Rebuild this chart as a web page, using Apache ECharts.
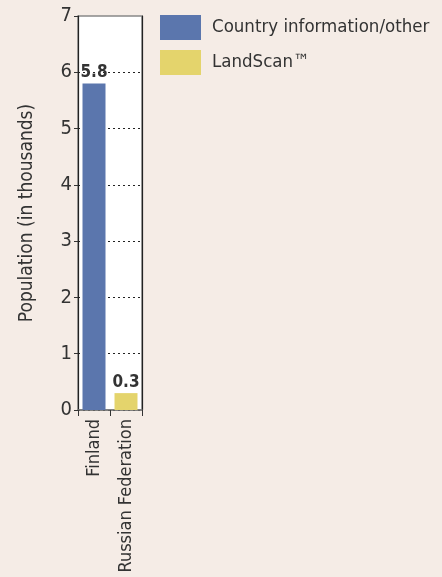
<!DOCTYPE html>
<html><head><meta charset="utf-8">
<script src="https://cdn.jsdelivr.net/npm/echarts@6/dist/echarts.min.js"></script>
<style>html,body{margin:0;padding:0;background:#f5ece6;}#c{width:442px;height:577px;}</style>
</head><body><div id="c"></div>
<script>
var categories = ['Finland', 'Russian Federation'];
var countryInfo = [5.8, null];
var landScan = [null, 0.3];
var yTicks = [0, 1, 2, 3, 4, 5, 6, 7];
var seriesNames = ['Country information/other', 'LandScan\u2122'];

var FONT = '"DejaVu Sans Condensed", "Liberation Sans Narrow", sans-serif';
var chart = echarts.init(document.getElementById('c'));
chart.setOption({
  backgroundColor: '#f5ece6',
  animation: false,
  textStyle: { fontFamily: FONT },
  grid: { left: 78, right: 300, top: 16, bottom: 167, show: true, backgroundColor: '#ffffff', borderColor: '#888', borderWidth: 1.5 },
  legend: {
    orient: 'vertical', left: 155, top: 10, itemWidth: 41, itemHeight: 25, itemGap: 10,
    icon: 'rect',
    textStyle: { fontFamily: FONT, fontSize: 18.5, color: '#333', padding: [3, 0, 0, 6] },
    data: seriesNames
  },
  xAxis: {
    type: 'category', data: categories,
    axisLine: { lineStyle: { color: '#777', width: 1.5 } },
    axisTick: { show: true, length: 6, lineStyle: { color: '#333' } },
    axisLabel: { rotate: 90, fontSize: 18, color: '#333', fontFamily: FONT, margin: 9 }
  },
  yAxis: [{
    type: 'value', min: 0, max: 7, interval: 1,
    name: 'Population (in thousands)', nameLocation: 'middle', nameGap: 41, nameRotate: 90,
    nameTextStyle: { fontSize: 19, color: '#333', fontFamily: FONT },
    axisLine: { show: true, lineStyle: { color: '#222', width: 1.2 } },
    axisTick: { show: true, length: 4, lineStyle: { color: '#333' } },
    axisLabel: { fontSize: 20, color: '#333', fontFamily: FONT, margin: 6,
      formatter: function (v) { return yTicks.indexOf(v) >= 0 ? String(v) : ''; } },
    splitLine: { show: true, showMaxLine: false, lineStyle: { type: [2, 3], color: '#222', width: 1 } }
  }, {
    type: 'value', min: 0, max: 7, interval: 1, position: 'right',
    axisLine: { show: true, lineStyle: { color: '#222', width: 1.2 } },
    axisTick: { show: false }, axisLabel: { show: false }, splitLine: { show: false }
  }],
  series: [{
    name: seriesNames[0], type: 'bar', stack: 'a', data: countryInfo, barWidth: 23,
    itemStyle: { color: '#5b76ad' },
    label: { show: true, position: 'top', fontSize: 17, fontWeight: 'bold', color: '#333', fontFamily: FONT, distance: 2 }
  }, {
    name: seriesNames[1], type: 'bar', stack: 'a', data: landScan, barWidth: 23,
    itemStyle: { color: '#e4d46c' },
    label: { show: true, position: 'top', fontSize: 17, fontWeight: 'bold', color: '#333', fontFamily: FONT, distance: 2 }
  }]
});
</script></body></html>
